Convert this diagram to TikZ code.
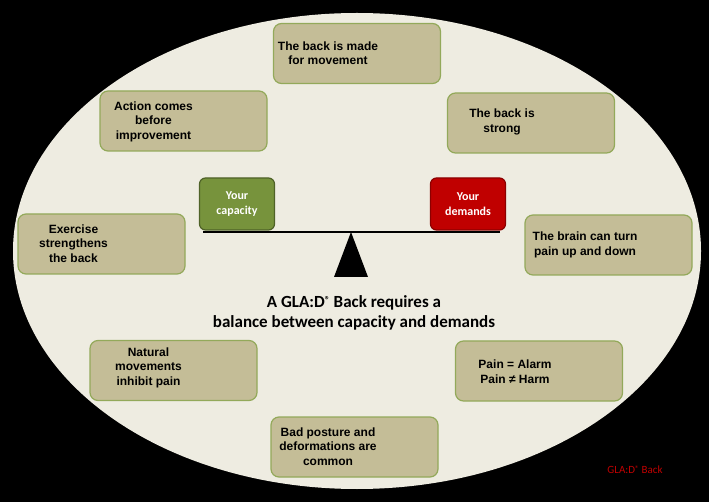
\documentclass[tikz,border=0pt]{standalone}
\usepackage{fontspec}
\setmainfont{Liberation Sans}
\newfontfamily\calibri{Carlito}
\definecolor{ovalfill}{HTML}{EEECE1}
\definecolor{cardfill}{HTML}{C4BD97}
\definecolor{cardline}{HTML}{93A95A}
\definecolor{capfill}{HTML}{77933C}
\definecolor{capline}{HTML}{4F6228}
\definecolor{demfill}{HTML}{C00000}
\definecolor{demline}{HTML}{8C0000}
\begin{document}
\begin{tikzpicture}[x=1pt,y=-1pt,
  card/.style={draw=cardline,fill=cardfill,line width=1.2pt,rounded corners=8pt,
    minimum width=167pt,minimum height=60pt,inner sep=0pt},
  cardtext/.style={font=\bfseries\fontsize{12}{14.5}\selectfont,align=center,inner sep=0pt},
  weight/.style={line width=1.2pt,rounded corners=6pt,minimum width=75pt,minimum height=52pt,
    inner sep=0pt,text=white,align=center,font=\calibri\bfseries\fontsize{12}{15}\selectfont}]
  \fill[black] (0,0) rectangle (709,502);
  \fill[ovalfill] (357,251) ellipse [x radius=344pt,y radius=238pt];
  % seesaw
  \coordinate (beamL) at (203,232);
  \coordinate (beamR) at (500,232);
  \coordinate (pivot) at (351,232);
  \draw[line width=1.5pt] (beamL) -- (beamR);
  \fill[black] (pivot) -- (334,277) -- (368,277) -- cycle;
  \node[weight,draw=capline,fill=capfill] (capacity) at (237,204) {Your\\capacity};
  \node[weight,draw=demline,fill=demfill] (demands) at (468,204) {Your\\demands};
  % cards
  \node[card] (movement) at (357,53.5) {};
  \node[cardtext] (movementtxt) at (328,53) {The back is made\\for movement};
  \node[card] (action) at (183.5,121) {};
  \node[cardtext] (actiontxt) at (153.5,121.5) {Action comes\\before\\improvement};
  \node[card] (strong) at (531,123) {};
  \node[cardtext] (strongtxt) at (502,122) {The back is\\strong};
  \node[card] (exercise) at (101.5,244) {};
  \node[cardtext] (exercisetxt) at (73.5,243.5) {Exercise\\strengthens\\the back};
  \node[card] (brain) at (608.5,245) {};
  \node[cardtext] (braintxt) at (585,245) {The brain can turn\\pain up and down};
  \node[card] (natural) at (173.5,370.5) {};
  \node[cardtext] (naturaltxt) at (148.5,367.5) {Natural\\movements\\inhibit pain};
  \node[card] (alarm) at (539,371) {};
  \node[cardtext] (alarmtxt) at (515,371.5) {Pain = Alarm\\Pain ≠ Harm};
  \node[card] (posture) at (354.5,447) {};
  \node[cardtext] (posturetxt) at (328,446.5) {Bad posture and\\deformations are\\common};
  % message
  \node[align=center,font=\calibri\bfseries\fontsize{17}{20}\selectfont] (balance) at (354,313)
    {A GLA:D\raisebox{0.55ex}{\fontsize{10}{10}\selectfont ®} Back requires a\\balance between capacity and demands};
  \node[text=demfill,font=\calibri\fontsize{11}{12}\selectfont] (brand) at (635,470)
    {GLA:D\raisebox{0.4ex}{\fontsize{8}{8}\selectfont ®} Back};
\end{tikzpicture}
\end{document}
